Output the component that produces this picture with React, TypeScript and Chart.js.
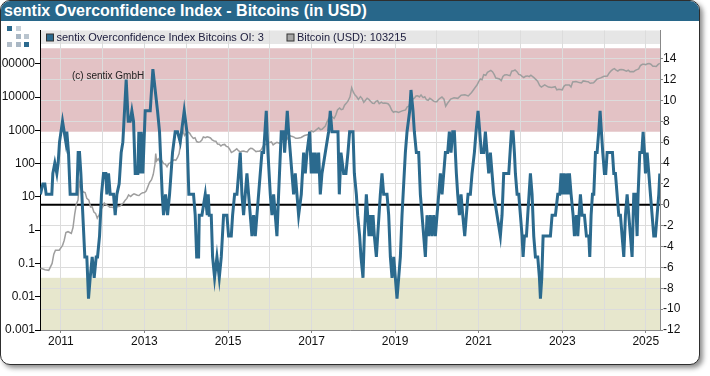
import React, { useEffect, useRef } from 'react';
import { Chart, registerables } from 'chart.js';

Chart.register(...registerables);

const TITLE = 'sentix Overconfidence Index - Bitcoins (in USD)';
const LEGEND_LABELS = ['sentix Overconfidence Index Bitcoins OI: 3', 'Bitcoin (USD): 103215'];
const COPYRIGHT = '(c) sentix GmbH';

const X_TICKS = [2011, 2012, 2013, 2014, 2015, 2016, 2017, 2018, 2019, 2020, 2021, 2022, 2023, 2024, 2025];
const LEFT_TICKS = [0.001, 0.01, 0.1, 1, 10, 100, 1000, 10000, 100000];
const RIGHT_TICKS = [-12, -10, -8, -6, -4, -2, 0, 2, 4, 6, 8, 10, 12, 14];
const BAND_HIGH = [7, 15];
const BAND_LOW = [-12, -7];

// sentix Overconfidence Index (right axis)
const IDX_YEARS = [
  2010.51, 2010.568, 2010.616, 2010.648, 2010.783, 2010.807, 2010.855, 2010.903, 2010.935, 2010.967,
  2011.039, 2011.079, 2011.119, 2011.142, 2011.182, 2011.222, 2011.382, 2011.414, 2011.446, 2011.478,
  2011.573, 2011.621, 2011.661, 2011.701, 2011.749, 2011.797, 2011.845, 2011.877, 2011.925, 2011.972,
  2012.02, 2012.076, 2012.1, 2012.14, 2012.18, 2012.26, 2012.3, 2012.34, 2012.395, 2012.443,
  2012.483, 2012.563, 2012.611, 2012.659, 2012.699, 2012.739, 2012.779, 2012.842, 2012.866, 2012.898,
  2012.922, 2012.962, 2013.018, 2013.138, 2013.202, 2013.257, 2013.313, 2013.361, 2013.425, 2013.457,
  2013.505, 2013.553, 2013.601, 2013.672, 2013.736, 2013.792, 2013.856, 2013.952, 2014.016, 2014.063,
  2014.175, 2014.215, 2014.25, 2014.296, 2014.312, 2014.376, 2014.455, 2014.503, 2014.527, 2014.551,
  2014.599, 2014.631, 2014.679, 2014.735, 2014.791, 2014.839, 2014.894, 2014.974, 2015.014, 2015.078,
  2015.11, 2015.158, 2015.214, 2015.254, 2015.293, 2015.333, 2015.373, 2015.413, 2015.453, 2015.493,
  2015.533, 2015.573, 2015.613, 2015.653, 2015.692, 2015.732, 2015.772, 2015.812, 2015.852, 2015.916,
  2015.956, 2016.012, 2016.052, 2016.092, 2016.131, 2016.171, 2016.211, 2016.275, 2016.331, 2016.355,
  2016.387, 2016.419, 2016.451, 2016.491, 2016.53, 2016.57, 2016.61, 2016.65, 2016.69, 2016.754,
  2016.81, 2016.85, 2016.89, 2016.954, 2016.993, 2017.025, 2017.057, 2017.089, 2017.129, 2017.169,
  2017.209, 2017.249, 2017.329, 2017.408, 2017.448, 2017.488, 2017.632, 2017.664, 2017.704, 2017.768,
  2017.823, 2017.871, 2017.911, 2017.967, 2017.992, 2018.024, 2018.072, 2018.104, 2018.151, 2018.183,
  2018.231, 2018.263, 2018.311, 2018.343, 2018.375, 2018.407, 2018.439, 2018.471, 2018.503, 2018.551,
  2018.582, 2018.614, 2018.646, 2018.686, 2018.726, 2018.806, 2018.846, 2018.886, 2018.926, 2018.966,
  2019.045, 2019.085, 2019.125, 2019.165, 2019.245, 2019.285, 2019.349, 2019.38, 2019.428, 2019.46,
  2019.508, 2019.564, 2019.604, 2019.644, 2019.684, 2019.724, 2019.764, 2019.804, 2019.843, 2019.883,
  2019.923, 2019.963, 2020.003, 2020.043, 2020.083, 2020.123, 2020.163, 2020.203, 2020.258, 2020.298,
  2020.338, 2020.378, 2020.418, 2020.466, 2020.498, 2020.538, 2020.578, 2020.618, 2020.666, 2020.705,
  2020.745, 2020.801, 2020.841, 2020.897, 2020.937, 2020.985, 2021.025, 2021.064, 2021.12, 2021.16,
  2021.2, 2021.24, 2021.28, 2021.32, 2021.36, 2021.44, 2021.519, 2021.559, 2021.599, 2021.72,
  2021.783, 2021.823, 2021.855, 2021.879, 2021.919, 2021.959, 2021.999, 2022.039, 2022.063, 2022.095,
  2022.143, 2022.174, 2022.206, 2022.238, 2022.278, 2022.318, 2022.358, 2022.414, 2022.454, 2022.478,
  2022.51, 2022.542, 2022.717, 2022.757, 2022.837, 2022.893, 2022.941, 2022.972, 2023.004, 2023.036,
  2023.076, 2023.1, 2023.14, 2023.172, 2023.212, 2023.26, 2023.292, 2023.34, 2023.372, 2023.403,
  2023.435, 2023.475, 2023.531, 2023.579, 2023.635, 2023.659, 2023.691, 2023.723, 2023.755, 2023.795,
  2023.834, 2023.874, 2023.906, 2023.938, 2023.97, 2024.01, 2024.042, 2024.074, 2024.13, 2024.202,
  2024.234, 2024.273, 2024.313, 2024.353, 2024.393, 2024.433, 2024.473, 2024.513, 2024.553, 2024.593,
  2024.633, 2024.672, 2024.712, 2024.752, 2024.792, 2024.816, 2024.856, 2024.904, 2024.936, 2024.968,
  2024.992, 2025.032, 2025.072, 2025.111, 2025.151, 2025.191, 2025.231, 2025.271, 2025.311, 2025.335,
];
const IDX_VALUES = [
  1, 2, 2, 1, 1, 3, 4, 3, 4, 6,
  8, 7, 6, 7, 5, 1, 1, 5, 5, 3,
  -5, -5, -9, -7, -5, -7, -5, -5, -3, 1,
  3, 3, 1, 3, 1, 1, -1, 1, 2, 5,
  6, 12, 8, 8, 9, 8, 3, 3, 7, 3,
  7, 3, 9, 9, 13, 11, 9, 7, 1, -1,
  1, -1, 1, 5, 7, 7, 6, 9, 7, 1,
  1, -1, -5, -5, -1, -1, 1, -1, 1, -1,
  -1, -5, -7, -5, -7, -5, -1, -1, -3, -3,
  -1, 1, 1, 3, 5, 1, -1, 1, 3, 1,
  -1, -3, -1, -3, -1, 1, 3, 5, 5, 9,
  5, 1, -1, 1, -1, -3, 1, 7, 7, 5,
  7, 9, 7, 5, 3, 1, 3, 1, -1, 1,
  5, 3, 5, 7, 3, 5, 3, 5, 3, 5,
  1, 3, 5, 7, 9, 7, 7, 1, 5, 3,
  3, 5, 7, 7, 7, 3, 1, -1, -3, -5,
  -7, -3, 1, -1, -3, -1, -3, -1, -3, -5,
  -3, -1, 1, 3, 1, 1, -1, -5, -7, -5,
  -9, -7, -5, -1, 5, 7, 9, 11, 9, 7,
  5, 5, 1, -1, -3, -5, -1, -3, -1, -3,
  -1, -3, -1, 1, 3, 1, 3, 5, 5, 7,
  5, 7, 7, 3, 1, -1, 1, -1, -3, -1,
  1, 1, 3, 5, 7, 9, 7, 5, 5, 7,
  5, 3, 5, 3, 1, -1, -3, -1, 3, 3,
  7, 7, 5, 3, 1, 1, -1, -3, -5, -3,
  -3, -1, 1, 3, 1, -3, -5, -5, -7, -9,
  -7, -3, -3, -1, -1, 1, 1, 3, 1, 3,
  1, 3, 1, 3, 1, -1, -3, -1, -3, -1,
  1, -1, -1, -3, -3, -5, -1, 1, 1, 5,
  5, 7, 9, 7, 5, 3, 3, 5, 5, 5,
  3, 3, 1, -1, -1, -3, -5, -1, 1, -1,
  -3, -5, 1, 1, -3, 1, 5, 5, 7, 5,
  3, 5, 3, 1, -1, -3, -3, -1, 1, 3,
];

// Bitcoin price in USD (left, log axis)
const BTC_YEARS = [
  2010.51, 2010.54, 2010.62, 2010.71, 2010.79, 2010.83, 2010.87, 2010.96,
  2011.04, 2011.08, 2011.12, 2011.17, 2011.21, 2011.25, 2011.29, 2011.33, 2011.37, 2011.41, 2011.44, 2011.48,
  2011.54, 2011.58, 2011.62, 2011.67, 2011.71, 2011.75, 2011.79, 2011.83, 2011.87, 2011.92, 2011.96,
  2012.0, 2012.04, 2012.08, 2012.12, 2012.17, 2012.21, 2012.25, 2012.29, 2012.33, 2012.37, 2012.41, 2012.46, 2012.5,
  2012.54, 2012.58, 2012.62, 2012.67, 2012.71, 2012.75, 2012.79, 2012.83, 2012.87, 2012.92, 2012.96,
  2013.0, 2013.04, 2013.08, 2013.12, 2013.17, 2013.21, 2013.25, 2013.27, 2013.29, 2013.33, 2013.37, 2013.41, 2013.46, 2013.5,
  2013.54, 2013.58, 2013.62, 2013.67, 2013.71, 2013.75, 2013.79, 2013.83, 2013.87, 2013.9, 2013.92, 2013.96,
  2014.0, 2014.04, 2014.08, 2014.12, 2014.17, 2014.21, 2014.25, 2014.29, 2014.33, 2014.37, 2014.41, 2014.46, 2014.5,
  2014.54, 2014.58, 2014.62, 2014.67, 2014.71, 2014.75, 2014.79, 2014.83, 2014.87, 2014.92, 2014.96,
  2015.0, 2015.04, 2015.08, 2015.12, 2015.17, 2015.21, 2015.25, 2015.29, 2015.33, 2015.37, 2015.41, 2015.46, 2015.5,
  2015.54, 2015.58, 2015.62, 2015.67, 2015.71, 2015.75, 2015.79, 2015.83, 2015.87, 2015.92, 2015.96,
  2016.0, 2016.04, 2016.08, 2016.12, 2016.17, 2016.21, 2016.25, 2016.33, 2016.41, 2016.46, 2016.5,
  2016.54, 2016.58, 2016.62, 2016.67, 2016.75, 2016.83, 2016.92, 2016.96,
  2017.0, 2017.04, 2017.08, 2017.17, 2017.21, 2017.25, 2017.33, 2017.37, 2017.41, 2017.46, 2017.5,
  2017.54, 2017.58, 2017.62, 2017.67, 2017.71, 2017.75, 2017.79, 2017.83, 2017.87, 2017.92, 2017.96,
  2018.0, 2018.04, 2018.08, 2018.12, 2018.17, 2018.21, 2018.25, 2018.29, 2018.33, 2018.37, 2018.41, 2018.46, 2018.5,
  2018.54, 2018.58, 2018.62, 2018.67, 2018.71, 2018.75, 2018.79, 2018.83, 2018.87, 2018.92, 2018.96,
  2019.0, 2019.04, 2019.08, 2019.17, 2019.25, 2019.29, 2019.33, 2019.37, 2019.41, 2019.46, 2019.5,
  2019.54, 2019.58, 2019.62, 2019.67, 2019.71, 2019.75, 2019.79, 2019.83, 2019.87, 2019.92, 2019.96,
  2020.0, 2020.04, 2020.08, 2020.12, 2020.17, 2020.21, 2020.25, 2020.33, 2020.41, 2020.5,
  2020.58, 2020.67, 2020.75, 2020.83, 2020.92, 2020.96,
  2021.0, 2021.04, 2021.08, 2021.12, 2021.17, 2021.21, 2021.25, 2021.29, 2021.33, 2021.37, 2021.41, 2021.46, 2021.5,
  2021.54, 2021.58, 2021.62, 2021.67, 2021.71, 2021.75, 2021.79, 2021.83, 2021.87, 2021.92, 2021.96,
  2022.0, 2022.04, 2022.08, 2022.12, 2022.17, 2022.21, 2022.25, 2022.33, 2022.41, 2022.46, 2022.5,
  2022.58, 2022.67, 2022.75, 2022.83, 2022.87, 2022.92,
  2023.0, 2023.04, 2023.08, 2023.17, 2023.21, 2023.25, 2023.33, 2023.41, 2023.46, 2023.5,
  2023.58, 2023.62, 2023.67, 2023.75, 2023.83, 2023.92,
  2024.0, 2024.04, 2024.08, 2024.12, 2024.17, 2024.21, 2024.25, 2024.29, 2024.33, 2024.37, 2024.41, 2024.46, 2024.5,
  2024.54, 2024.58, 2024.62, 2024.67, 2024.71, 2024.75, 2024.79, 2024.83, 2024.87, 2024.92, 2024.96,
  2025.0, 2025.04, 2025.08, 2025.12, 2025.17, 2025.21, 2025.25, 2025.29, 2025.335,
];
const BTC_PRICES = [
  0.07, 0.07, 0.065, 0.062, 0.1, 0.19, 0.25, 0.25,
  0.35, 0.5, 0.85, 0.9, 0.85, 0.8, 1.2, 3, 6, 8, 28, 17,
  14, 13.5, 9, 8, 5, 5, 3.5, 3.2, 2.3, 3, 4.2,
  5, 6.5, 5.8, 5.5, 4.9, 4.9, 4.8, 5, 5, 5.1, 5.2, 6, 6.7,
  8, 9, 11.5, 10.2, 11.5, 12.4, 11.8, 11.2, 11, 12.6, 13.4,
  13.5, 15, 20, 27, 33, 47, 93, 200, 120, 140, 115, 125, 100, 97,
  80, 100, 105, 120, 130, 125, 150, 200, 450, 800, 1100, 700,
  800, 900, 830, 680, 570, 600, 460, 440, 450, 500, 630, 600, 640,
  620, 590, 520, 480, 470, 386, 380, 338, 370, 378, 330,
  320, 270, 217, 230, 254, 280, 244, 225, 236, 238, 230, 225, 263,
  290, 284, 260, 230, 235, 236, 255, 314, 380, 377, 430,
  430, 450, 368, 400, 437, 415, 416, 448, 531, 700, 673,
  650, 624, 575, 575, 609, 700, 745, 900,
  964, 900, 970, 1190, 1050, 1080, 1350, 1800, 2300, 2700, 2480,
  2300, 2875, 4100, 4700, 4200, 4340, 5700, 6470, 7500, 10200, 19000,
  14000, 11500, 10200, 8500, 10300, 9000, 6900, 8000, 9240, 8500, 7500, 6500, 6400,
  7400, 7730, 6300, 7000, 6500, 6600, 6500, 6300, 5500, 4000, 3500,
  3700, 3600, 3450, 3850, 4100, 5100, 5300, 7500, 8550, 9300, 10800,
  11000, 10100, 11500, 9600, 10200, 8300, 8000, 9200, 8500, 7550, 7200,
  7200, 8500, 9350, 10000, 8600, 5300, 6400, 8650, 9450, 9150,
  11300, 11650, 10800, 13800, 19700, 23000,
  29000, 35000, 33100, 47000, 45100, 55000, 58800, 63000, 57700, 48000, 37300, 36000, 35000,
  31000, 41500, 46000, 47100, 45000, 43800, 60000, 61300, 65000, 57000, 48000,
  46300, 42000, 38500, 42000, 43200, 41000, 45500, 37700, 30000, 22000, 19900,
  23300, 20000, 19400, 20500, 16500, 17200,
  16500, 21000, 23100, 23100, 20000, 28500, 29200, 27200, 26500, 30500,
  29200, 29000, 26000, 27000, 34500, 37700,
  42300, 42000, 42600, 52000, 61200, 68000, 71300, 64000, 60600, 66000, 67500, 66000, 62700,
  60000, 64600, 58000, 59000, 58000, 63300, 67000, 70200, 88000, 96400, 97000,
  93400, 100000, 102400, 97000, 84300, 84000, 82500, 94000, 103215,
];

const BLUE = '#2b6a8e';
const GRAY = '#9e9e9e';
const PINK = '#e3c2c5';
const OLIVE = '#e7e7cd';
const GRID = '#dcdcdc';
const FONT = '"Liberation Sans", Arial, sans-serif';

const decorPlugin = {
  id: 'decor',
  beforeDraw(chart: any) {
    const { ctx, chartArea: a, scales } = chart;
    const yR = scales.yR;
    ctx.save();
    const w = a.right - a.left;
    const p1 = yR.getPixelForValue(BAND_HIGH[1]);
    const p2 = yR.getPixelForValue(BAND_HIGH[0]);
    ctx.fillStyle = PINK;
    ctx.fillRect(a.left, p1, w, p2 - p1);
    const o1 = yR.getPixelForValue(BAND_LOW[1]);
    const o2 = yR.getPixelForValue(BAND_LOW[0]);
    ctx.fillStyle = OLIVE;
    ctx.fillRect(a.left, o1, w, o2 - o1);
    ctx.fillStyle = '#e6e6e6';
    ctx.fillRect(a.left, a.top, w, 13.5);
    ctx.restore();
  },
  beforeDatasetsDraw(chart: any) {
    const { ctx, chartArea: a, scales } = chart;
    const y0 = scales.yR.getPixelForValue(0);
    ctx.save();
    ctx.strokeStyle = '#000';
    ctx.lineWidth = 2;
    ctx.beginPath();
    ctx.moveTo(a.left, y0);
    ctx.lineTo(a.right, y0);
    ctx.stroke();
    ctx.fillStyle = '#222';
    ctx.font = `10px ${FONT}`;
    ctx.textBaseline = 'middle';
    ctx.textAlign = 'left';
    ctx.fillText(COPYRIGHT, a.left + 32, 76);
    ctx.restore();
  },
  afterDraw(chart: any) {
    const { ctx, chartArea: a } = chart;
    ctx.save();
    const cy = a.top + 7;
    const items = [
      { x: a.left + 6.5, color: BLUE, label: LEGEND_LABELS[0] },
      { x: a.left + 247, color: '#a6a6a6', label: LEGEND_LABELS[1] },
    ];
    ctx.font = `11px ${FONT}`;
    ctx.textBaseline = 'middle';
    ctx.textAlign = 'left';
    for (const it of items) {
      ctx.fillStyle = it.color;
      ctx.fillRect(it.x, cy - 3.5, 7, 7);
      ctx.strokeStyle = '#333';
      ctx.lineWidth = 1;
      ctx.strokeRect(it.x, cy - 3.5, 7, 7);
      ctx.fillStyle = '#202040';
      ctx.fillText(it.label, it.x + 10, cy + 0.5);
    }
    ctx.restore();
  },
};

const LOGO = [
  { x: 7, y: 26, c: BLUE },
  { x: 16, y: 26, c: '#c6d0d9' },
  { x: 16, y: 34, c: '#a9b7c4' },
  { x: 24, y: 34, c: '#b9c4ce' },
  { x: 7, y: 42, c: '#b2bdc8' },
  { x: 16, y: 42, c: '#a9b7c4' },
  { x: 24, y: 42, c: BLUE },
];

export default function App() {
  const ref = useRef<HTMLCanvasElement | null>(null);

  useEffect(() => {
    document.body.style.margin = '0';
    const canvas = ref.current;
    if (!canvas) return;
    const chart = new Chart(canvas, {
      type: 'line',
      data: {
        datasets: [
          {
            label: LEGEND_LABELS[0],
            data: IDX_YEARS.map((x, i) => ({ x, y: IDX_VALUES[i] })),
            yAxisID: 'yR',
            borderColor: BLUE,
            borderWidth: 3,
            pointRadius: 0,
            tension: 0,
          },
          {
            label: LEGEND_LABELS[1],
            data: BTC_YEARS.map((x, i) => ({ x, y: BTC_PRICES[i] })),
            yAxisID: 'yL',
            borderColor: GRAY,
            borderWidth: 1.5,
            pointRadius: 0,
            tension: 0,
          },
        ],
      },
      options: {
        responsive: false,
        animation: false,
        devicePixelRatio: 1,
        layout: { padding: { top: 30.5, left: 0, right: 0, bottom: 0 } },
        plugins: { legend: { display: false }, tooltip: { enabled: false } },
        scales: {
          x: {
            type: 'linear',
            position: 'bottom',
            min: 2010.5,
            max: 2025.34,
            afterBuildTicks: (s: any) => {
              s.ticks = X_TICKS.map((v) => ({ value: v }));
            },
            afterFit: (s: any) => {
              s.height = 35;
            },
            grid: {
              color: GRID,
              tickLength: 3,
              tickColor: (c: any) => (c.tick && c.tick.value % 2 === 1 ? '#888' : 'rgba(0,0,0,0)'),
            },
            border: { color: '#888' },
            ticks: {
              autoSkip: false,
              maxRotation: 0,
              padding: 1,
              color: '#111',
              font: { family: FONT, size: 12 },
              callback: (v: any) => (Number(v) % 2 === 1 ? String(v) : ''),
            },
          },
          yL: {
            type: 'logarithmic',
            position: 'left',
            min: 0.001,
            max: 1000000,
            afterBuildTicks: (s: any) => {
              s.ticks = LEFT_TICKS.map((v) => ({ value: v }));
            },
            afterFit: (s: any) => {
              s.width = 40;
            },
            grid: { drawOnChartArea: false, tickLength: 5, tickColor: '#000' },
            border: { color: '#000' },
            ticks: {
              padding: 0,
              color: '#111',
              font: { family: FONT, size: 12 },
              callback: (v: any) => String(v),
            },
          },
          yR: {
            type: 'linear',
            position: 'right',
            min: -12,
            max: 16.7,
            afterBuildTicks: (s: any) => {
              s.ticks = RIGHT_TICKS.map((v) => ({ value: v }));
            },
            afterFit: (s: any) => {
              s.width = 40;
            },
            grid: { color: GRID, tickLength: 3, tickColor: '#888' },
            border: { color: '#888' },
            ticks: {
              padding: 0,
              color: '#111',
              font: { family: FONT, size: 12 },
              callback: (v: any) => String(v),
            },
          },
        },
      },
      plugins: [decorPlugin],
    } as any);
    return () => chart.destroy();
  }, []);

  return (
    <div style={{ position: 'relative', width: 710, height: 376, background: '#fff' }}>
      <div
        style={{
          position: 'absolute',
          left: 0,
          top: 0,
          width: 700,
          height: 365,
          boxSizing: 'border-box',
          border: '1.5px solid #2e2e2e',
          borderRadius: 10,
          boxShadow: '3px 3px 5px rgba(0,0,0,0.45)',
          overflow: 'hidden',
          background: '#fff',
        }}
      >
        <div
          style={{
            position: 'absolute',
            left: 0,
            top: 0,
            right: 0,
            height: 19.5,
            background: '#28678a',
            color: '#fff',
            fontFamily: FONT,
            fontWeight: 'bold',
            fontSize: 16,
            lineHeight: '19px',
            paddingLeft: 3,
            whiteSpace: 'nowrap',
          }}
        >
          {TITLE}
        </div>
        {LOGO.map((s, i) => (
          <div
            key={i}
            style={{
              position: 'absolute',
              left: s.x - 1.5,
              top: s.y - 1.5,
              width: 5.5,
              height: 5.5,
              background: s.c,
            }}
          />
        ))}
        <canvas
          ref={ref}
          width={700}
          height={365}
          style={{ position: 'absolute', left: -1.5, top: -1.5, width: 700, height: 365 }}
        />
      </div>
    </div>
  );
}
